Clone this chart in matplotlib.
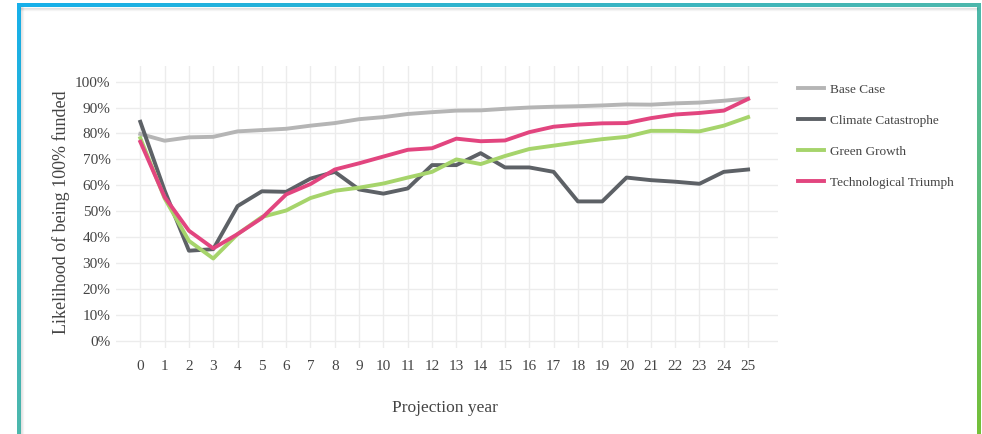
import numpy as np
import matplotlib
matplotlib.use("Agg")
import matplotlib.pyplot as plt
from matplotlib.patches import Rectangle
from matplotlib.colors import LinearSegmentedColormap

plt.rcParams['font.family'] = ['Liberation Serif', 'DejaVu Serif']

# data
years = list(range(26))
base_case = [79.8, 77.2, 78.5, 78.7, 80.8, 81.3, 81.8, 83.0, 84.0, 85.5, 86.3, 87.5, 88.2,
             88.8, 88.9, 89.5, 90.0, 90.3, 90.5, 90.8, 91.2, 91.1, 91.6, 91.9, 92.6, 93.5]
climate = [84.5, 58.0, 34.8, 35.4, 52.0, 57.7, 57.5, 62.6, 65.2, 58.4, 56.8, 58.8, 67.8,
           67.8, 72.4, 66.9, 66.9, 65.2, 53.8, 53.8, 63.0, 62.0, 61.4, 60.6, 65.2, 66.1]
green = [78.2, 55.0, 38.6, 31.8, 41.2, 47.8, 50.3, 55.1, 57.9, 59.1, 60.7, 63.0, 65.2,
         70.0, 68.2, 71.3, 74.0, 75.3, 76.6, 77.8, 78.7, 81.0, 81.0, 80.8, 83.0, 86.3]
tech = [76.8, 55.5, 42.5, 35.7, 41.2, 47.4, 56.5, 60.5, 66.1, 68.5, 71.1, 73.7, 74.3,
        78.0, 77.0, 77.3, 80.5, 82.6, 83.4, 83.9, 84.0, 85.9, 87.3, 87.9, 88.8, 93.3]

series = [("Base Case", base_case, "#b5b5b5"),
          ("Climate Catastrophe", climate, "#5d6166"),
          ("Green Growth", green, "#a6d46b"),
          ("Technological Triumph", tech, "#e2457f")]

W, H = 982, 434
fig = plt.figure(figsize=(W / 100, H / 100), dpi=100)

# gradient frame
bg = fig.add_axes([0, 0, 1, 1], zorder=0)
bg.set_xlim(0, W)
bg.set_ylim(H, 0)
bg.axis('off')
cmap = LinearSegmentedColormap.from_list('frame', ['#17b0ea', '#4db8ac', '#74c03a'])
gx, gy = np.meshgrid(np.linspace(0, 1, 200), np.linspace(0, 1, 100))
bg.imshow((gx + gy) / 2, cmap=cmap, extent=(17, 981, H, 3), aspect='auto',
          interpolation='bilinear')
bg.add_patch(Rectangle((21, 7), 956, H, facecolor='white', edgecolor='none'))
for i, a in enumerate([0.10, 0.06, 0.03]):
    bg.plot([21, 977], [7.5 + i, 7.5 + i], color='black', alpha=a, lw=1)
    bg.plot([21.5 + i, 21.5 + i], [7, H], color='black', alpha=a, lw=1)

ax = fig.add_axes([116 / W, (H - 348) / H, (778 - 116) / W, (348 - 66) / H], zorder=1)
ax.set_facecolor('none')

for name, vals, col in series:
    ax.plot(years, vals, color=col, lw=2.8, label=name, solid_joinstyle='round')

ax.set_xlim(-1, 26.23)
ax.set_ylim(-2.7, 106)
ax.set_xticks(years)
ax.set_yticks(range(0, 101, 10))
ax.set_yticklabels(['%d%%' % v for v in range(0, 101, 10)])
ax.grid(True, color='#ececec', lw=1)
ax.set_axisbelow(True)
for s in ax.spines.values():
    s.set_visible(False)
ax.tick_params(length=0, labelsize=11, labelcolor='#444444')
ax.tick_params(axis='x', pad=9)
ax.tick_params(axis='y', pad=4)

ax.set_ylabel('Likelihood of being 100% funded', fontsize=13, color='#444444')
ax.yaxis.set_label_coords(-0.0695, 0.48)
ax.set_xlabel('Projection year', fontsize=12.5, color='#444444')
ax.xaxis.set_label_coords(0.497, -0.184)

ax.legend(loc='upper left', bbox_to_anchor=(786 / W, (H - 72) / H),
          bbox_transform=fig.transFigure, frameon=False, fontsize=9.5,
          handlelength=1.95, handletextpad=0.45, labelspacing=1.42,
          labelcolor='#444444')

fig.savefig('out.png', dpi=100)
